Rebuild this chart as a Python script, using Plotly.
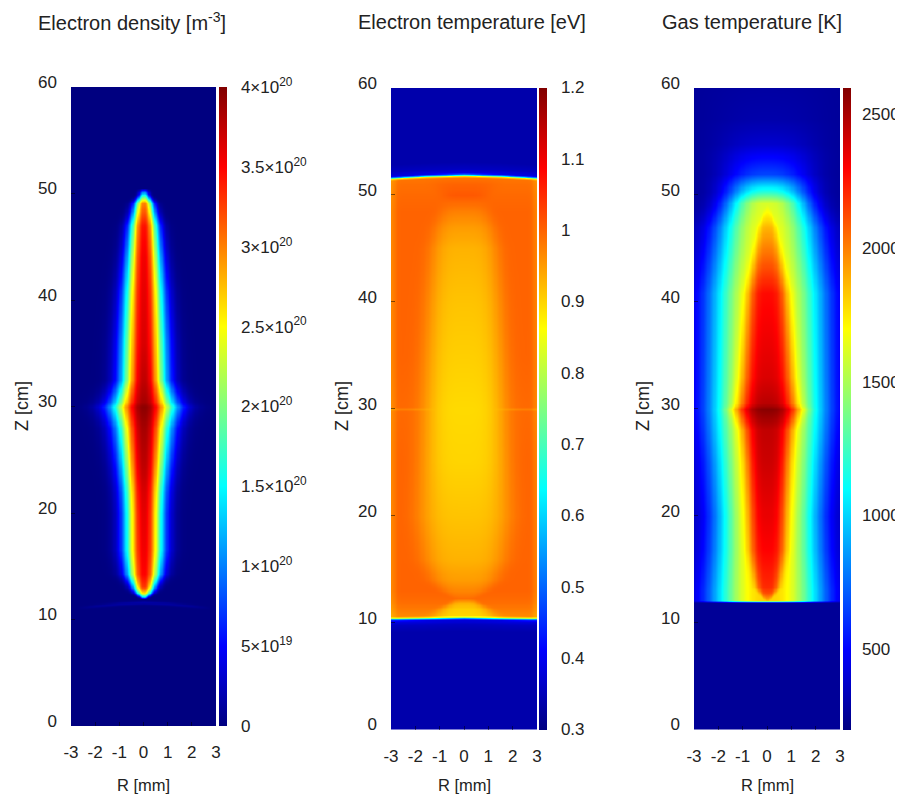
import numpy as np
import plotly.graph_objects as go

# ---------------- axes / ticks ----------------
r_ticks = [-3, -2, -1, 0, 1, 2, 3]
r_tick_text = ["-3", "-2", "-1", "0", "1", "2", "3"]
z_ticks = [0, 10, 20, 30, 40, 50, 60]

# ---------------- Electron density (values in 1e20 m^-3) ----------------
ne_z      = [11.9, 12.1, 12.5, 13.1, 14.3, 16.5, 20.0, 22.0, 24.3, 28.0, 30.0, 30.4, 32.5, 36.0, 40.6, 44.0, 46.9, 49.1, 49.9, 50.5]
ne_center = [0.0, 1.2, 2.6, 3.3, 3.5, 3.55, 3.6, 3.65, 3.75, 3.85, 3.95, 3.85, 3.75, 3.65, 3.6, 3.55, 3.45, 3.0, 1.6, 0.0]
ne_width  = [0.1, 0.15, 0.3, 0.42, 0.62, 0.72, 0.72, 0.75, 0.83, 0.97, 1.17, 1.08, 0.83, 0.8, 0.72, 0.62, 0.53, 0.35, 0.2, 0.15]
ne_arc_r   = [-2.8, -2.0, -1.0, 0.0, 1.0, 2.0, 2.8]
ne_arc_z   = [11.1, 11.3, 11.5, 11.6, 11.5, 11.3, 11.1]
ne_arc_amp = [0.0, 0.08, 0.12, 0.14, 0.12, 0.08, 0.0]
ne_cb_vals = [0, 0.5, 1, 1.5, 2, 2.5, 3, 3.5, 4]
ne_cb_text = ["0", "5×10<sup>19</sup>", "1×10<sup>20</sup>", "1.5×10<sup>20</sup>", "2×10<sup>20</sup>",
              "2.5×10<sup>20</sup>", "3×10<sup>20</sup>", "3.5×10<sup>20</sup>", "4×10<sup>20</sup>"]

# ---------------- Electron temperature (eV) ----------------
te_z      = [10.4, 10.8, 11.3, 11.8, 12.3, 13.0, 14.0, 16.0, 20.0, 25.0, 30.0, 35.0, 40.0, 45.0, 47.0, 48.5, 50.0, 51.0, 51.9]
te_center = [0.90, 0.90, 0.905, 0.93, 0.99, 0.97, 0.95, 0.93, 0.915, 0.90, 0.895, 0.905, 0.915, 0.93, 0.95, 0.975, 1.01, 1.0, 0.98]
te_core_w = [1.3, 1.2, 1.0, 0.6, 0.4, 0.9, 1.3, 1.65, 1.85, 1.75, 1.65, 1.6, 1.5, 1.35, 1.2, 1.0, 0.9, 1.2, 1.5]
te_wall   = [0.97, 0.97, 0.98, 0.99, 0.995, 1.0, 1.0, 1.0, 1.0, 1.0, 0.995, 1.0, 1.0, 1.0, 1.0, 1.0, 0.995, 0.99, 0.98]
te_outside = 0.338
te_edge_r  = [-3.0, -1.5, 0.0, 1.5, 3.0]
te_lo_z    = [10.3, 10.35, 10.4, 10.35, 10.3]
te_hi_z    = [51.65, 51.85, 51.95, 51.85, 51.65]
te_ramp_dz   = [-1.2, -0.5, -0.15, 0.0, 0.12, 0.3]
te_ramp_frac = [0.0, 0.03, 0.08, 0.35, 0.85, 1.0]
te_cb_vals = [0.3, 0.4, 0.5, 0.6, 0.7, 0.8, 0.9, 1.0, 1.1, 1.2]
te_cb_text = ["0.3", "0.4", "0.5", "0.6", "0.7", "0.8", "0.9", "1", "1.1", "1.2"]

# ---------------- Gas temperature (K) ----------------
tg_bg       = 255
tg_halo_z   = [11.85, 12.05, 13.0, 16.8, 20.0, 25.0, 28.0, 30.0, 33.0, 40.8, 45.0, 47.0, 49.2, 50.3, 52.0, 54.8, 57.0, 60.0]
tg_halo_amp = [0, 1550, 1550, 1600, 1650, 1680, 1690, 1700, 1650, 1550, 1450, 1420, 1350, 950, 400, 130, 50, 25]
tg_halo_w   = [2.25, 2.25, 2.25, 2.1, 2.04, 2.15, 2.25, 2.3, 2.3, 2.3, 2.1, 2.0, 1.7, 1.65, 1.75, 2.0, 2.3, 2.6]
tg_core_z   = [12.0, 12.3, 12.8, 13.3, 16.8, 20.5, 25.0, 28.0, 30.0, 30.5, 33.0, 40.8, 45.0, 47.0, 49.2]
tg_core_amp = [0, 150, 320, 395, 445, 445, 485, 500, 625, 520, 480, 475, 300, 200, 0]
tg_core_w   = [0.05, 0.15, 0.3, 0.45, 0.72, 0.76, 0.85, 0.98, 1.35, 1.15, 1.0, 0.78, 0.5, 0.35, 0.05]
tg_cb_vals = [500, 1000, 1500, 2000, 2500]

# ---------------- grids ----------------
R = np.linspace(-3, 3, 121)
Z = np.linspace(0, 60, 601)
RR, ZZ = np.meshgrid(R, Z)
AR = np.abs(RR)

# electron density field
n0 = np.interp(Z, ne_z, ne_center, left=0, right=0)[:, None]
w = np.interp(Z, ne_z, ne_width)[:, None]
NE = n0 * np.exp(-0.875 * (AR / w) ** 2.2)
arc_z = np.interp(R, ne_arc_r, ne_arc_z)[None, :]
arc_a = np.interp(R, ne_arc_r, ne_arc_amp)[None, :]
NE = NE + arc_a * np.exp(-((ZZ - arc_z) / 0.15) ** 2)

# electron temperature field
tc = np.interp(Z, te_z, te_center)[:, None]
ta = np.interp(Z, te_z, te_core_w)[:, None]
tw = np.interp(Z, te_z, te_wall)[:, None]
TE_in = tw + (tc - tw) * np.exp(-(AR / ta) ** 4)
TE_in -= 0.03 * np.exp(-((3 - AR) / 0.18) ** 2)
TE_in -= 0.02 * np.exp(-((ZZ - 30.0) / 0.12) ** 2) * np.clip((AR - 1.2) / 0.8, 0, 1)
zlo = np.interp(R, te_edge_r, te_lo_z)[None, :]
zhi = np.interp(R, te_edge_r, te_hi_z)[None, :]
d = np.minimum(ZZ - zlo, zhi - ZZ)
frac = np.interp(d, te_ramp_dz, te_ramp_frac)
TE = te_outside + (TE_in - te_outside) * frac

# gas temperature field
ha = np.interp(Z, tg_halo_z, tg_halo_amp, left=0)[:, None]
hw = np.interp(Z, tg_halo_z, tg_halo_w)[:, None]
ca = np.interp(Z, tg_core_z, tg_core_amp, left=0, right=0)[:, None]
cw = np.interp(Z, tg_core_z, tg_core_w)[:, None]
TG = tg_bg + ha * np.exp(-(AR / hw) ** 2.6) + ca * np.exp(-(AR / cw) ** 3.5)

jet = [[0.0, "rgb(0,0,128)"], [0.125, "rgb(0,0,255)"], [0.375, "rgb(0,255,255)"],
       [0.625, "rgb(255,255,0)"], [0.875, "rgb(255,0,0)"], [1.0, "rgb(128,0,0)"]]

# page offset of the plot div (body margin) and figure size
OFF = 8
WF, HF = 903 - OFF, 800 - OFF
def px(x):
    return (x - OFF) / WF
def py(y):
    return 1 - (y - OFF) / HF

FONT = "Liberation Sans, Arial, sans-serif"
TXT = "#222222"

panels = [
    dict(x0=71, x1=216, y0=87, y1=726, cx0=219, cbgap=11),
    dict(x0=391, x1=537, y0=88, y1=729.5, cx0=539, cbgap=11),
    dict(x0=694, x1=840, y0=88, y1=729.5, cx0=843, cbgap=8),
]

def cbar(p, vals, text):
    return dict(x=px(p["cx0"]), xanchor="left", xpad=0, ypad=0,
                y=py(p["y1"]), yanchor="bottom", len=(p["y1"] - p["y0"]) / HF, lenmode="fraction",
                thickness=8, thicknessmode="pixels", outlinewidth=0,
                ticks="outside", ticklen=p["cbgap"], tickcolor="rgba(0,0,0,0)",
                tickvals=vals, ticktext=text, tickfont=dict(family=FONT, size=17, color=TXT))

fig = go.Figure()
fields = [(NE, 0, 4, ne_cb_vals, ne_cb_text), (TE, 0.3, 1.2, te_cb_vals, te_cb_text),
          (TG, 200, 2600, tg_cb_vals, [str(v) for v in tg_cb_vals])]
for i, (F, lo, hi, cv, ct) in enumerate(fields):
    sfx = "" if i == 0 else str(i + 1)
    fig.add_trace(go.Heatmap(x=R, y=Z, z=np.round(F, 4), zmin=lo, zmax=hi, colorscale=jet,
                             zsmooth="best", xaxis="x" + sfx, yaxis="y" + sfx,
                             colorbar=cbar(panels[i], cv, ct), hoverinfo="skip"))

layout = dict(width=WF, height=HF, margin=dict(l=0, r=0, t=0, b=0, autoexpand=False),
              paper_bgcolor="white", plot_bgcolor="white", showlegend=False)
annotations = []
titles = ["Electron density [m<sup>-3</sup>]", "Electron temperature [eV]", "Gas temperature [K]"]
title_x = [36, 356, 660]
zlab_x = [22, 342, 643]
for i, p in enumerate(panels):
    sfx = "" if i == 0 else str(i + 1)
    layout["xaxis" + sfx] = dict(domain=[px(p["x0"]), px(p["x1"])], range=[-3, 3], anchor="y" + sfx,
                                 tickvals=r_ticks, ticktext=r_tick_text, ticks="inside", ticklen=4,
                                 tickcolor="rgba(0,0,0,0.5)",
                                 showgrid=False, zeroline=False, showline=False, ticklabelstandoff=14,
                                 tickfont=dict(family=FONT, size=17, color=TXT))
    layout["yaxis" + sfx] = dict(domain=[py(p["y1"]), py(p["y0"])], range=[0, 60], anchor="x" + sfx,
                                 tickvals=z_ticks, ticks="inside", ticklen=4, tickcolor="rgba(0,0,0,0.5)",
                                 showgrid=False, zeroline=False, showline=False, ticklabelstandoff=13,
                                 ticklabelshift=-5,
                                 tickfont=dict(family=FONT, size=17, color=TXT))
    annotations.append(dict(text=titles[i], x=px(title_x[i]), y=py(22), xref="paper", yref="paper",
                            xanchor="left", yanchor="middle", showarrow=False,
                            font=dict(family=FONT, size=20, color=TXT)))
    annotations.append(dict(text="Z [cm]", x=px(zlab_x[i]), y=py(406), xref="paper", yref="paper",
                            xanchor="center", yanchor="middle", textangle=-90, showarrow=False,
                            font=dict(family=FONT, size=18, color=TXT)))
    annotations.append(dict(text="R [mm]", x=px((p["x0"] + p["x1"]) / 2), y=py(785), xref="paper", yref="paper",
                            xanchor="center", yanchor="middle", showarrow=False,
                            font=dict(family=FONT, size=16.5, color=TXT)))
layout["annotations"] = annotations
fig.update_layout(**layout)
fig.write_html("out.html")
